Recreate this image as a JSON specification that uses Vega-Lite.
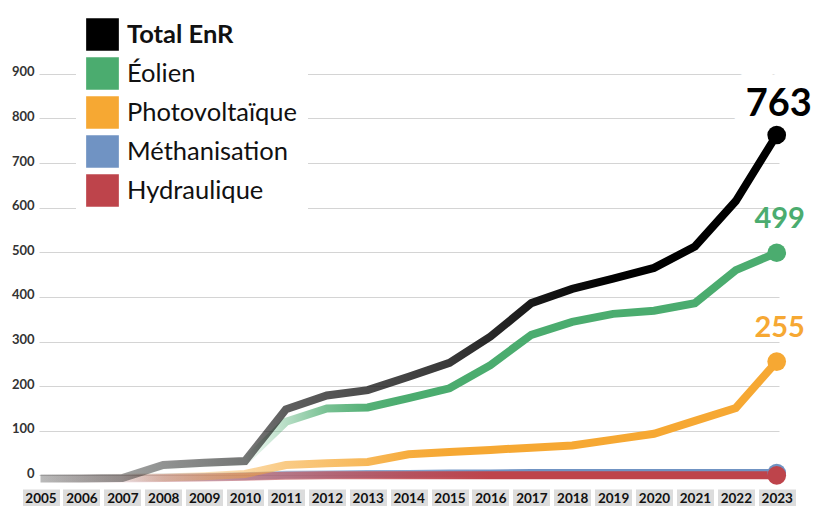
{
  "$schema": "https://vega.github.io/schema/vega-lite/v6.json",
  "width": 740,
  "height": 428,
  "autosize": {"type": "none"},
  "padding": {"left": 39, "top": 54, "right": 38, "bottom": 24},
  "background": "white",
  "config": {"view": {"stroke": null}, "font": "Lato"},
  "data": {"values": [
    {"year": 2005, "series": "Total EnR", "value": -7},
    {"year": 2006, "series": "Total EnR", "value": -7},
    {"year": 2007, "series": "Total EnR", "value": -6},
    {"year": 2008, "series": "Total EnR", "value": 23},
    {"year": 2009, "series": "Total EnR", "value": 28},
    {"year": 2010, "series": "Total EnR", "value": 32},
    {"year": 2011, "series": "Total EnR", "value": 148},
    {"year": 2012, "series": "Total EnR", "value": 179},
    {"year": 2013, "series": "Total EnR", "value": 191},
    {"year": 2014, "series": "Total EnR", "value": 221},
    {"year": 2015, "series": "Total EnR", "value": 252},
    {"year": 2016, "series": "Total EnR", "value": 311},
    {"year": 2017, "series": "Total EnR", "value": 386},
    {"year": 2018, "series": "Total EnR", "value": 418},
    {"year": 2019, "series": "Total EnR", "value": 441},
    {"year": 2020, "series": "Total EnR", "value": 465},
    {"year": 2021, "series": "Total EnR", "value": 513},
    {"year": 2022, "series": "Total EnR", "value": 615},
    {"year": 2023, "series": "Total EnR", "value": 763},
    {"year": 2005, "series": "Éolien", "value": -7},
    {"year": 2006, "series": "Éolien", "value": -7},
    {"year": 2007, "series": "Éolien", "value": -6},
    {"year": 2008, "series": "Éolien", "value": 21},
    {"year": 2009, "series": "Éolien", "value": 27},
    {"year": 2010, "series": "Éolien", "value": 31},
    {"year": 2011, "series": "Éolien", "value": 120},
    {"year": 2012, "series": "Éolien", "value": 150},
    {"year": 2013, "series": "Éolien", "value": 152},
    {"year": 2014, "series": "Éolien", "value": 173},
    {"year": 2015, "series": "Éolien", "value": 195},
    {"year": 2016, "series": "Éolien", "value": 247},
    {"year": 2017, "series": "Éolien", "value": 315},
    {"year": 2018, "series": "Éolien", "value": 344},
    {"year": 2019, "series": "Éolien", "value": 362},
    {"year": 2020, "series": "Éolien", "value": 369},
    {"year": 2021, "series": "Éolien", "value": 386},
    {"year": 2022, "series": "Éolien", "value": 460},
    {"year": 2023, "series": "Éolien", "value": 499},
    {"year": 2005, "series": "Photovoltaïque", "value": -6},
    {"year": 2006, "series": "Photovoltaïque", "value": -6},
    {"year": 2007, "series": "Photovoltaïque", "value": -5},
    {"year": 2008, "series": "Photovoltaïque", "value": -5},
    {"year": 2009, "series": "Photovoltaïque", "value": -2},
    {"year": 2010, "series": "Photovoltaïque", "value": 3},
    {"year": 2011, "series": "Photovoltaïque", "value": 23},
    {"year": 2012, "series": "Photovoltaïque", "value": 27},
    {"year": 2013, "series": "Photovoltaïque", "value": 30},
    {"year": 2014, "series": "Photovoltaïque", "value": 47},
    {"year": 2015, "series": "Photovoltaïque", "value": 52},
    {"year": 2016, "series": "Photovoltaïque", "value": 57},
    {"year": 2017, "series": "Photovoltaïque", "value": 62},
    {"year": 2018, "series": "Photovoltaïque", "value": 67},
    {"year": 2019, "series": "Photovoltaïque", "value": 80},
    {"year": 2020, "series": "Photovoltaïque", "value": 93},
    {"year": 2021, "series": "Photovoltaïque", "value": 122},
    {"year": 2022, "series": "Photovoltaïque", "value": 151},
    {"year": 2023, "series": "Photovoltaïque", "value": 255},
    {"year": 2005, "series": "Méthanisation", "value": -6},
    {"year": 2006, "series": "Méthanisation", "value": -6},
    {"year": 2007, "series": "Méthanisation", "value": -6},
    {"year": 2008, "series": "Méthanisation", "value": -5},
    {"year": 2009, "series": "Méthanisation", "value": -4},
    {"year": 2010, "series": "Méthanisation", "value": -2},
    {"year": 2011, "series": "Méthanisation", "value": 1},
    {"year": 2012, "series": "Méthanisation", "value": 2},
    {"year": 2013, "series": "Méthanisation", "value": 3},
    {"year": 2014, "series": "Méthanisation", "value": 3},
    {"year": 2015, "series": "Méthanisation", "value": 4},
    {"year": 2016, "series": "Méthanisation", "value": 4},
    {"year": 2017, "series": "Méthanisation", "value": 5},
    {"year": 2018, "series": "Méthanisation", "value": 5},
    {"year": 2019, "series": "Méthanisation", "value": 5},
    {"year": 2020, "series": "Méthanisation", "value": 5},
    {"year": 2021, "series": "Méthanisation", "value": 5},
    {"year": 2022, "series": "Méthanisation", "value": 5},
    {"year": 2023, "series": "Méthanisation", "value": 5},
    {"year": 2005, "series": "Hydraulique", "value": -7},
    {"year": 2006, "series": "Hydraulique", "value": -7},
    {"year": 2007, "series": "Hydraulique", "value": -7},
    {"year": 2008, "series": "Hydraulique", "value": -6},
    {"year": 2009, "series": "Hydraulique", "value": -5},
    {"year": 2010, "series": "Hydraulique", "value": -3},
    {"year": 2011, "series": "Hydraulique", "value": -1},
    {"year": 2012, "series": "Hydraulique", "value": 0},
    {"year": 2013, "series": "Hydraulique", "value": 0},
    {"year": 2014, "series": "Hydraulique", "value": 0},
    {"year": 2015, "series": "Hydraulique", "value": 0},
    {"year": 2016, "series": "Hydraulique", "value": 0},
    {"year": 2017, "series": "Hydraulique", "value": 0},
    {"year": 2018, "series": "Hydraulique", "value": 0},
    {"year": 2019, "series": "Hydraulique", "value": 0},
    {"year": 2020, "series": "Hydraulique", "value": 0},
    {"year": 2021, "series": "Hydraulique", "value": 0},
    {"year": 2022, "series": "Hydraulique", "value": 0},
    {"year": 2023, "series": "Hydraulique", "value": 0}
  ]},
  "encoding": {
    "x": {
      "field": "year", "type": "quantitative",
      "scale": {"domain": [2004.963, 2023.056], "nice": false, "zero": false},
      "axis": {
        "title": null,
        "values": [2005, 2006, 2007, 2008, 2009, 2010, 2011, 2012, 2013, 2014, 2015, 2016, 2017, 2018, 2019, 2020, 2021, 2022, 2023],
        "format": "d", "domain": false, "grid": false, "ticks": true,
        "tickSize": 17, "tickWidth": 37, "tickColor": "#dcdcdc", "offset": 7,
        "labelPadding": -8, "labelBaseline": "middle",
        "labelFont": "Lato", "labelFontSize": 13.5, "labelFontWeight": "bold", "labelColor": "#111",
        "labelFlush": false, "labelOverlap": false, "labelBound": false
      }
    },
    "y": {
      "field": "value", "type": "quantitative",
      "scale": {"domain": [-15, 944.6], "nice": false, "zero": false},
      "axis": {
        "title": null,
        "values": [0, 100, 200, 300, 400, 500, 600, 700, 800, 900],
        "domain": false, "ticks": false, "grid": true,
        "gridColor": "#d4d4d4", "gridWidth": 1,
        "labelPadding": 5, "labelOffset": -2,
        "labelFont": "Lato", "labelFontSize": 13, "labelFontWeight": "bold", "labelColor": "#333"
      }
    }
  },
  "layer": [
    {
      "transform": [{"filter": "datum.year == 2023 && datum.series == 'Total EnR'"}],
      "mark": {"type": "text", "fill": "white", "stroke": "white", "strokeWidth": 30, "strokeJoin": "round", "fontSize": 38, "fontWeight": "bold", "font": "Lato", "align": "center", "baseline": "alphabetic", "dx": 2, "dy": -18.5},
      "encoding": {"text": {"field": "value", "type": "quantitative"}}
    },
    {
      "transform": [{"filter": "datum.series == 'Méthanisation'"}],
      "mark": {"type": "line", "strokeWidth": 8, "stroke": {"gradient": "linear", "x1": 0, "y1": 0, "x2": 1, "y2": 0, "stops": [
        {"offset": 0, "color": "rgba(112,147,195,0)"},
        {"offset": 0.111, "color": "rgba(112,147,195,0.1)"},
        {"offset": 0.167, "color": "rgba(112,147,195,0.3)"},
        {"offset": 0.278, "color": "rgba(112,147,195,0.5)"},
        {"offset": 0.389, "color": "rgba(112,147,195,0.7)"},
        {"offset": 0.5, "color": "rgba(112,147,195,0.85)"},
        {"offset": 0.611, "color": "rgba(112,147,195,1)"},
        {"offset": 1, "color": "rgba(112,147,195,1)"}
      ]}},
      "encoding": {}
    },
    {
      "transform": [{"filter": "datum.series == 'Hydraulique'"}],
      "mark": {"type": "line", "strokeWidth": 8, "stroke": {"gradient": "linear", "x1": 0, "y1": 0, "x2": 1, "y2": 0, "stops": [
        {"offset": 0, "color": "rgba(190,68,75,0)"},
        {"offset": 0.111, "color": "rgba(190,68,75,0.12)"},
        {"offset": 0.167, "color": "rgba(190,68,75,0.3)"},
        {"offset": 0.278, "color": "rgba(190,68,75,0.5)"},
        {"offset": 0.389, "color": "rgba(190,68,75,0.68)"},
        {"offset": 0.5, "color": "rgba(190,68,75,0.85)"},
        {"offset": 0.611, "color": "rgba(190,68,75,1)"},
        {"offset": 1, "color": "rgba(190,68,75,1)"}
      ]}},
      "encoding": {}
    },
    {
      "transform": [{"filter": "datum.series == 'Photovoltaïque'"}],
      "mark": {"type": "line", "strokeWidth": 8, "stroke": {"gradient": "linear", "x1": 0, "y1": 0, "x2": 1, "y2": 0, "stops": [
        {"offset": 0, "color": "rgba(246,168,51,0)"},
        {"offset": 0.111, "color": "rgba(246,168,51,0.05)"},
        {"offset": 0.167, "color": "rgba(246,168,51,0.2)"},
        {"offset": 0.278, "color": "rgba(246,168,51,0.45)"},
        {"offset": 0.333, "color": "rgba(246,168,51,0.6)"},
        {"offset": 0.444, "color": "rgba(246,168,51,0.82)"},
        {"offset": 0.5, "color": "rgba(246,168,51,0.95)"},
        {"offset": 0.556, "color": "rgba(246,168,51,1)"},
        {"offset": 1, "color": "rgba(246,168,51,1)"}
      ]}},
      "encoding": {}
    },
    {
      "transform": [{"filter": "datum.series == 'Éolien'"}],
      "mark": {"type": "line", "strokeWidth": 8, "stroke": {"gradient": "linear", "x1": 0, "y1": 0, "x2": 1, "y2": 0, "stops": [
        {"offset": 0, "color": "rgba(75,172,111,0)"},
        {"offset": 0.278, "color": "rgba(75,172,111,0.05)"},
        {"offset": 0.333, "color": "rgba(75,172,111,0.4)"},
        {"offset": 0.389, "color": "rgba(75,172,111,0.75)"},
        {"offset": 0.444, "color": "rgba(75,172,111,0.95)"},
        {"offset": 0.5, "color": "rgba(75,172,111,1)"},
        {"offset": 1, "color": "rgba(75,172,111,1)"}
      ]}},
      "encoding": {}
    },
    {
      "transform": [{"filter": "datum.series == 'Total EnR'"}],
      "mark": {"type": "line", "strokeWidth": 8, "stroke": {"gradient": "linear", "x1": 0, "y1": 0, "x2": 1, "y2": 0, "stops": [
        {"offset": 0, "color": "rgba(0,0,0,0.27)"},
        {"offset": 0.167, "color": "rgba(0,0,0,0.42)"},
        {"offset": 0.278, "color": "rgba(0,0,0,0.53)"},
        {"offset": 0.333, "color": "rgba(0,0,0,0.63)"},
        {"offset": 0.444, "color": "rgba(0,0,0,0.7)"},
        {"offset": 0.556, "color": "rgba(0,0,0,0.78)"},
        {"offset": 0.667, "color": "rgba(0,0,0,0.9)"},
        {"offset": 0.778, "color": "rgba(0,0,0,1)"},
        {"offset": 1, "color": "rgba(0,0,0,1)"}
      ]}},
      "encoding": {}
    },
    {
      "transform": [{"filter": "datum.year == 2023"}],
      "mark": {"type": "point", "filled": true, "size": 350, "opacity": 1, "strokeWidth": 0},
      "encoding": {
        "color": {
          "field": "series", "type": "nominal",
          "scale": {
            "domain": ["Total EnR", "Éolien", "Photovoltaïque", "Méthanisation", "Hydraulique"],
            "range": ["#000000", "#4bac6f", "#f6a833", "#7093c3", "#be444b"]
          },
          "legend": {
            "title": null, "orient": "none", "legendX": 37, "legendY": -46,
            "symbolType": "square", "symbolSize": 1070, "symbolStrokeWidth": 0, "symbolOpacity": 1,
            "labelFont": "Lato", "labelFontSize": 25.5, "labelColor": "#111", "labelOffset": 8, "labelLimit": 400,
            "rowPadding": 6, "fillColor": "white", "padding": 10,
            "encode": {"labels": {"update": {"fontWeight": {"signal": "datum.value === 'Total EnR' ? 'bold' : 'normal'"}}}}
          }
        }
      }
    },
    {
      "transform": [{"filter": "datum.year == 2023 && datum.series == 'Total EnR'"}],
      "mark": {"type": "text", "fill": "#000000", "fontSize": 38, "fontWeight": "bold", "font": "Lato", "align": "center", "baseline": "alphabetic", "dx": 2, "dy": -18.5},
      "encoding": {"text": {"field": "value", "type": "quantitative"}}
    },
    {
      "transform": [{"filter": "datum.year == 2023 && datum.series == 'Éolien'"}],
      "mark": {"type": "text", "fill": "#4bac6f", "fontSize": 29, "fontWeight": "bold", "font": "Lato", "align": "center", "baseline": "alphabetic", "dx": 3, "dy": -24.5},
      "encoding": {"text": {"field": "value", "type": "quantitative"}}
    },
    {
      "transform": [{"filter": "datum.year == 2023 && datum.series == 'Photovoltaïque'"}],
      "mark": {"type": "text", "fill": "#f6a833", "fontSize": 29, "fontWeight": "bold", "font": "Lato", "align": "center", "baseline": "alphabetic", "dx": 3, "dy": -24.5},
      "encoding": {"text": {"field": "value", "type": "quantitative"}}
    }
  ]
}
